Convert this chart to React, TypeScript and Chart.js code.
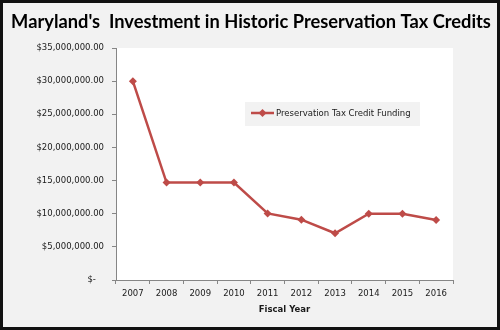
import React, { useEffect, useRef } from "react";
import { Chart, registerables } from "chart.js";

Chart.register(...registerables);

const TITLE = "Maryland's  Investment in Historic Preservation Tax Credits";
const SERIES_LABEL = "Preservation Tax Credit Funding";
const X_TITLE = "Fiscal Year";
const years = ["2007", "2008", "2009", "2010", "2011", "2012", "2013", "2014", "2015", "2016"];
const funding = [30000000, 14700000, 14700000, 14700000, 10050000, 9100000, 7050000, 10000000, 10000000, 9050000];
const Y_MAX = 35000000;
const Y_STEP = 5000000;

const LINE_COLOR = "#be4b48";
const TICK_FONT = "DejaVu Sans";

function fmtMoney(v: number): string {
  if (v === 0) return "$-   ";
  return "$" + v.toLocaleString("en-US", { minimumFractionDigits: 2, maximumFractionDigits: 2 });
}

export default function App() {
  const ref = useRef<HTMLCanvasElement | null>(null);

  useEffect(() => {
    document.body.style.margin = "0";
    const canvas = ref.current;
    if (!canvas) return;

    const bgPlugin = {
      id: "plotBg",
      beforeDraw(chart: any) {
        const { ctx, chartArea } = chart;
        ctx.save();
        ctx.fillStyle = "#f2f2f2";
        ctx.fillRect(0, 0, chart.width, chart.height);
        ctx.fillStyle = "#ffffff";
        ctx.fillRect(chartArea.left, chartArea.top, chartArea.right - chartArea.left, chartArea.bottom - chartArea.top);
        ctx.restore();
      },
      afterDraw(chart: any) {
        const { ctx, chartArea } = chart;
        ctx.save();
        // title
        ctx.fillStyle = "#000000";
        ctx.font = "bold 18.3px Lato";
        ctx.textAlign = "center";
        ctx.textBaseline = "middle";
        ctx.fillText(TITLE, 248, 19);
        // legend
        const lx = chartArea.left + 129;
        const ly = chartArea.top + 54;
        const lw = 175;
        const lh = 24;
        ctx.fillStyle = "#f2f2f2";
        ctx.fillRect(lx, ly, lw, lh);
        const cy = ly + lh / 2 - 1;
        ctx.strokeStyle = LINE_COLOR;
        ctx.lineWidth = 2.5;
        ctx.beginPath();
        ctx.moveTo(lx + 6, cy);
        ctx.lineTo(lx + 29, cy);
        ctx.stroke();
        ctx.fillStyle = LINE_COLOR;
        ctx.beginPath();
        const mx = lx + 17.5;
        ctx.moveTo(mx, cy - 4);
        ctx.lineTo(mx + 4, cy);
        ctx.lineTo(mx, cy + 4);
        ctx.lineTo(mx - 4, cy);
        ctx.closePath();
        ctx.fill();
        ctx.fillStyle = "#1a1a1a";
        ctx.font = "8.5px " + TICK_FONT;
        ctx.textAlign = "left";
        ctx.fillText(chart.data.datasets[0].label, lx + 31, cy + 1);
        ctx.restore();
      },
    };

    const chart = new Chart(canvas, {
      type: "line",
      data: {
        labels: years,
        datasets: [
          {
            label: SERIES_LABEL,
            data: funding,
            borderColor: LINE_COLOR,
            backgroundColor: LINE_COLOR,
            borderWidth: 2.5,
            pointStyle: "rectRot",
            pointRadius: 4,
            pointBorderWidth: 0,
            pointBackgroundColor: LINE_COLOR,
            tension: 0,
          },
        ],
      },
      plugins: [bgPlugin],
      options: {
        responsive: false,
        animation: false,
        layout: { padding: { top: 45, right: 44, bottom: 0, left: 0 } },
        plugins: {
          legend: { display: false },
          title: { display: false },
          tooltip: { enabled: false },
        },
        scales: {
          x: {
            offset: true,
            grid: { display: true, drawOnChartArea: false, offset: true, tickLength: 4, color: "#868686" },
            border: { color: "#868686", width: 1 },
            ticks: { color: "#1a1a1a", font: { family: TICK_FONT, size: 8.5 }, padding: 5, maxRotation: 0 },
            title: { display: true, text: X_TITLE, color: "#1a1a1a", font: { family: TICK_FONT, size: 8.5, weight: "bold" }, padding: { top: 0, bottom: 12 } },
            afterFit(scale: any) {
              scale.height = 47;
            },
          },
          y: {
            min: 0,
            max: Y_MAX,
            grid: { display: true, drawOnChartArea: false, tickLength: 4, color: "#868686" },
            border: { color: "#868686", width: 1 },
            ticks: {
              stepSize: Y_STEP,
              color: "#1a1a1a",
              font: { family: TICK_FONT, size: 8.5 },
              padding: 8,
              callback: (v: any) => fmtMoney(Number(v)),
            },
            afterFit(scale: any) {
              scale.width = 113;
            },
          },
        },
      },
    } as any);

    return () => chart.destroy();
  }, []);

  return (
    <div style={{ width: 500, height: 330, boxSizing: "border-box", border: "3px solid #111", background: "#f2f2f2" }}>
      <canvas ref={ref} width={494} height={324} style={{ display: "block", width: 494, height: 324 }} />
    </div>
  );
}
